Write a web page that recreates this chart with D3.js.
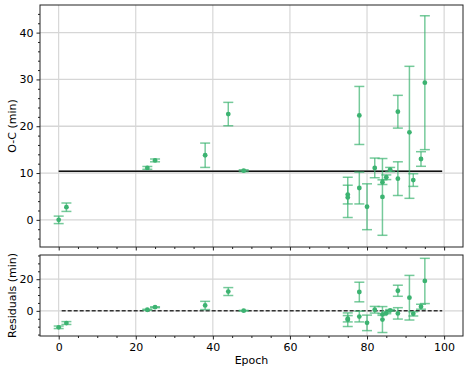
<!DOCTYPE html>
<html>
<head>
<meta charset="utf-8">
<script src="https://cdn.jsdelivr.net/npm/d3@7"></script>
<style>
  body { margin: 0; background: #fff; }
  text { font-family: "DejaVu Sans", sans-serif; }
</style>
</head>
<body>
<div id="chart"></div>
<script>
// observed transit timings
const epochs = [0, 2, 23, 25, 38, 44, 48, 75, 75, 78, 78, 80, 82, 84, 84, 85, 86, 88, 88, 91, 92, 94, 95];
const ocValues = [0.0, 2.7, 11.1, 12.7, 13.8, 22.6, 10.5, 5.4, 4.8, 22.3, 6.8, 2.8, 11.1, 8.05, 4.9, 9.1, 10.75, 8.8, 23.1, 18.7, 8.5, 13.0, 29.3];
const ocErrors = [0.8, 0.9, 0.3, 0.3, 2.6, 2.5, 0.2, 2.0, 4.3, 6.2, 3.4, 4.9, 2.1, 0.5, 8.2, 0.5, 0.45, 3.6, 3.5, 14.1, 1.35, 1.56, 14.3];
const residuals = [-10.4, -7.7, 0.7, 2.3, 3.4, 12.2, 0.1, -5.0, -5.6, 11.9, -3.6, -7.6, 0.7, -2.35, -5.5, -1.3, 0.35, -1.6, 12.7, 8.3, -1.9, 2.6, 18.9];
// constant model
const modelEpochs = [0, 99.5];
const modelValue = 10.4;
const modelSigma = 0.25;

const xTicks = [0, 20, 40, 60, 80, 100];
const ocTicks = [0, 10, 20, 30, 40];
const resTicks = [0, 20];

const width = 469, height = 372;
const green = '#3cb371';
const left = 40, right = 463;

const svg = d3.select('#chart').append('svg')
  .attr('width', width)
  .attr('height', height);

const x = d3.scaleLinear().domain([-4.85, 104.9]).range([left, right]);

const points = epochs.map((e, i) => ({
  epoch: e, oc: ocValues[i], err: ocErrors[i], res: residuals[i]
}));

function panel({ top, bottom, domain, ticks, minorStep, label, key, showXLabels }) {
  const y = d3.scaleLinear().domain(domain).range([bottom, top]);
  const g = svg.append('g');

  // grid
  g.append('g').selectAll('line')
    .data(xTicks)
    .join('line')
    .attr('x1', d => x(d)).attr('x2', d => x(d))
    .attr('y1', top).attr('y2', bottom)
    .attr('stroke', '#cfcfcf').attr('stroke-width', 1);
  g.append('g').selectAll('line')
    .data(ticks)
    .join('line')
    .attr('x1', left).attr('x2', right)
    .attr('y1', d => y(d)).attr('y2', d => y(d))
    .attr('stroke', '#d6d6d6').attr('stroke-width', 1.3);

  // model line
  if (key === 'oc') {
    g.append('rect')
      .attr('x', x(modelEpochs[0]))
      .attr('width', x(modelEpochs[1]) - x(modelEpochs[0]))
      .attr('y', y(modelValue + modelSigma))
      .attr('height', y(modelValue - modelSigma) - y(modelValue + modelSigma))
      .attr('fill', '#bbb').attr('opacity', 0.6);
    g.append('line')
      .attr('x1', x(modelEpochs[0])).attr('x2', x(modelEpochs[1]))
      .attr('y1', y(modelValue)).attr('y2', y(modelValue))
      .attr('stroke', '#111').attr('stroke-width', 1.5);
  } else {
    g.append('line')
      .attr('x1', x(modelEpochs[0]) + 3).attr('x2', x(modelEpochs[1]))
      .attr('y1', y(0)).attr('y2', y(0))
      .attr('stroke', '#333').attr('stroke-width', 1.5)
      .attr('stroke-dasharray', '4,2');
  }

  // error bars
  const bars = g.append('g')
    .attr('stroke', green)
    .attr('stroke-opacity', 0.7)
    .attr('stroke-width', 1.5)
    .selectAll('g')
    .data(points)
    .join('g');
  bars.append('line')
    .attr('x1', d => x(d.epoch)).attr('x2', d => x(d.epoch))
    .attr('y1', d => y(d[key] - d.err)).attr('y2', d => y(d[key] + d.err));
  bars.selectAll('.cap')
    .data(d => [d[key] - d.err, d[key] + d.err].map(v => ({ epoch: d.epoch, v })))
    .join('line')
    .attr('class', 'cap')
    .attr('x1', d => x(d.epoch) - 5).attr('x2', d => x(d.epoch) + 5)
    .attr('y1', d => y(d.v)).attr('y2', d => y(d.v));

  g.append('g').selectAll('circle')
    .data(points)
    .join('circle')
    .attr('cx', d => x(d.epoch))
    .attr('cy', d => y(d[key]))
    .attr('r', 2.4)
    .attr('fill', green);

  // frame
  g.append('rect')
    .attr('x', left).attr('y', top)
    .attr('width', right - left).attr('height', bottom - top)
    .attr('fill', 'none').attr('stroke', '#222').attr('stroke-width', 1);

  // axes
  const minorY = d3.range(Math.ceil(domain[0] / minorStep) * minorStep, domain[1], minorStep)
    .filter(v => !ticks.includes(v));
  const minorX = d3.range(-0, 105, 5).filter(v => !xTicks.includes(v));

  const yAxis = g.append('g')
    .attr('transform', `translate(${left},0)`)
    .call(d3.axisLeft(y).tickValues(ticks).tickSize(3.5).tickPadding(3).tickFormat(d3.format('d')));
  g.append('g')
    .attr('transform', `translate(${left},0)`)
    .call(d3.axisLeft(y).tickValues(minorY).tickSize(2).tickFormat(''));

  const xAxis = g.append('g')
    .attr('transform', `translate(0,${bottom})`)
    .call(d3.axisBottom(x).tickValues(xTicks).tickSize(3.5).tickPadding(3.5)
      .tickFormat(showXLabels ? d3.format('d') : ''));
  g.append('g')
    .attr('transform', `translate(0,${bottom})`)
    .call(d3.axisBottom(x).tickValues(minorX).tickSize(2).tickFormat(''));

  g.selectAll('.domain').remove();
  g.selectAll('.tick line').attr('stroke', '#222');
  g.selectAll('.tick text')
    .attr('font-family', '"DejaVu Sans", sans-serif')
    .attr('font-size', 11)
    .attr('fill', '#000');

  svg.append('text')
    .attr('transform', `translate(15.5,${(top + bottom) / 2}) rotate(-90)`)
    .attr('text-anchor', 'middle')
    .attr('font-size', 11)
    .text(label);
}

panel({ top: 5, bottom: 247, domain: [-5.8, 45.9], ticks: ocTicks, minorStep: 2,
  label: 'O-C (min)', key: 'oc', showXLabels: false });
panel({ top: 255, bottom: 336, domain: [-15.9, 35.3], ticks: resTicks, minorStep: 5,
  label: 'Residuals (min)', key: 'res', showXLabels: true });

svg.append('text')
  .attr('x', (left + right) / 2)
  .attr('y', 364)
  .attr('text-anchor', 'middle')
  .attr('font-size', 11)
  .text('Epoch');
</script>
</body>
</html>
